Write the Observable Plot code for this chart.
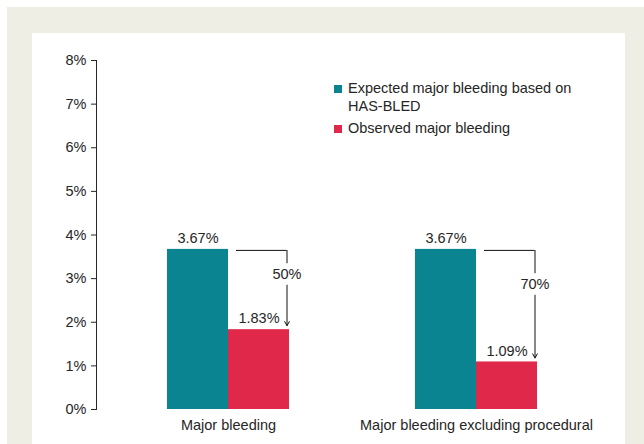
<!DOCTYPE html>
<html>
<head>
<meta charset="utf-8">
<script src="https://cdn.jsdelivr.net/npm/d3@7"></script>
<script src="https://cdn.jsdelivr.net/npm/@observablehq/plot@0.6"></script>
<style>
  html, body { margin: 0; padding: 0; background: #ffffff; width: 644px; height: 444px; overflow: hidden; }
  body { font-family: "Liberation Sans", Arial, Helvetica, sans-serif; color: #262626; }
  #outer { position: absolute; left: 7px; top: 7px; right: 0; bottom: 0; background: #efeee4; }
  #panel { position: absolute; left: 32px; top: 33px; width: 593px; height: 411px; background: #ffffff; }
  #chart { position: absolute; left: 0; top: 0; }
  #legend { position: absolute; left: 302px; top: 47px; font-size: 14.5px; line-height: 17.7px; }
  .item { display: flex; align-items: flex-start; margin-bottom: 4.5px; }
  .swatch { width: 8px; height: 8px; margin-top: 5px; margin-right: 6px; flex: none; }
  .label { width: 240px; }
</style>
</head>
<body>
<div id="outer"></div>
<div id="panel">
  <div id="chart"></div>
  <div id="legend"></div>
</div>
<script>
const categories = ["Major bleeding", "Major bleeding excluding procedural"];
const expected = [3.67, 3.67];
const observed = [1.83, 1.09];
const reductions = ["50%", "70%"];
const yTicks = [0, 1, 2, 3, 4, 5, 6, 7, 8];
const seriesNames = ["Expected major bleeding based on HAS-BLED", "Observed major bleeding"];
const seriesColors = ["#0b8491", "#e0294a"];

const rows = categories.map((c, i) => ({
  category: c,
  expected: expected[i],
  observed: observed[i],
  reduction: reductions[i]
}));

// legend
const legend = document.getElementById("legend");
seriesNames.forEach((name, i) => {
  const item = document.createElement("div");
  item.className = "item";
  const sw = document.createElement("div");
  sw.className = "swatch";
  sw.style.background = seriesColors[i];
  const lb = document.createElement("div");
  lb.className = "label";
  lb.textContent = name;
  item.appendChild(sw);
  item.appendChild(lb);
  legend.appendChild(item);
});

const half = 61;       // half of the band width (px)
const arrowDx = 58.5;
const ink = "#262626";
const lineInk = "#111111";

const chart = Plot.plot({
  width: 593,
  height: 411,
  marginTop: 27,
  marginBottom: 35,
  marginLeft: 64,
  marginRight: 17,
  style: {
    fontFamily: '"Liberation Sans", Arial, Helvetica, sans-serif',
    fontSize: "14.5px",
    color: ink,
    background: "transparent"
  },
  x: { domain: categories, paddingInner: 0.508, paddingOuter: 0.286, label: null },
  y: { domain: [0, 8], label: null },
  marks: [
    Plot.frame({ anchor: "left", stroke: ink }),
    Plot.axisY({ ticks: yTicks, tickSize: 5, tickPadding: 5, tickFormat: d => d + "%", label: null, stroke: ink }),
    Plot.axisX({ tickSize: 0, tickPadding: 10, label: null }),
    Plot.barY(rows, { x: "category", y: "expected", fill: seriesColors[0], insetRight: half }),
    Plot.barY(rows, { x: "category", y: "observed", fill: seriesColors[1], insetLeft: half }),
    Plot.text(rows, { x: "category", y: "expected", text: d => d.expected.toFixed(2) + "%", dx: -half / 2, dy: -11, fill: ink }),
    Plot.text(rows, { x: "category", y: "observed", text: d => d.observed.toFixed(2) + "%", dx: half / 2, dy: -11, fill: ink }),
    Plot.tickY(rows, { x: "category", y: "expected", insetLeft: half + 8, insetRight: 2.5, dy: 1, stroke: lineInk, strokeWidth: 1 }),
    Plot.arrow(rows, {
      x1: "category", x2: "category", y1: "expected", y2: "observed",
      dx: arrowDx, dy: 1, insetEnd: 5, headLength: 7, stroke: lineInk, strokeWidth: 1
    }),
    Plot.text(rows, {
      x: "category",
      y: d => d.expected - 0.31 * (d.expected - d.observed),
      text: "reduction",
      dx: arrowDx,
      fill: ink,
      stroke: "white",
      strokeWidth: 12
    })
  ]
});
document.getElementById("chart").appendChild(chart);
</script>
</body>
</html>
